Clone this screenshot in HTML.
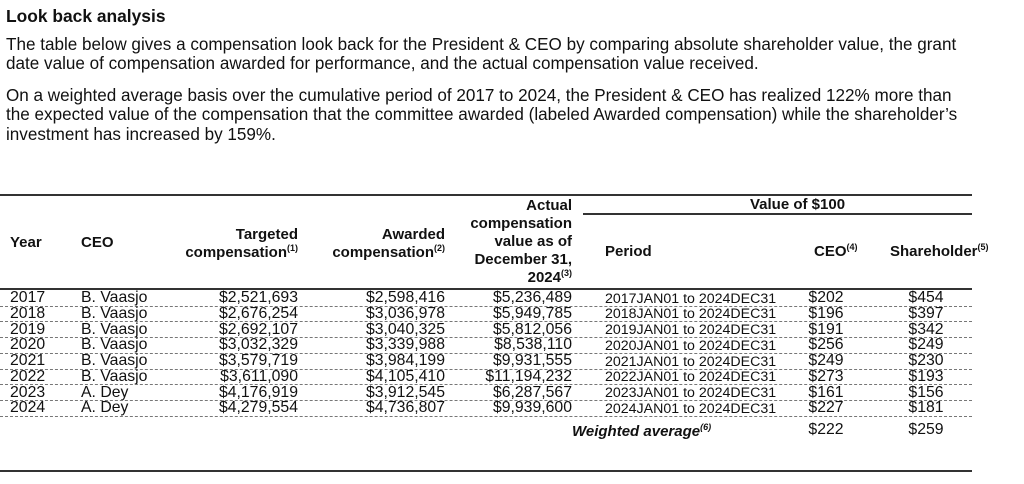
<!DOCTYPE html>
<html><head><style>
body{margin:0;width:1024px;height:484px;background:#fff;font-family:"Liberation Sans",Arial,sans-serif;color:#111;position:relative;overflow:hidden}
.a{position:absolute;white-space:nowrap}
.p{font-size:17.1px;line-height:19.4px;left:6px;width:1010px}
.h{font-weight:bold;font-size:15px;line-height:18px}
.r{text-align:right}
.c{text-align:center}
sup{font-size:9px;vertical-align:6px;line-height:0}
.row{font-size:15.8px;line-height:16px}
.per{font-size:14.2px;line-height:16px}
.dash{position:absolute;left:0;width:972px;border-top:1px dashed #777;height:0}
</style></head><body>
<div class="a" style="left:6px;top:6px;font-weight:bold;font-size:17.4px">Look back analysis</div>
<div class="a p" style="top:35px">The table below gives a compensation look back for the President &amp; CEO by comparing absolute shareholder value, the grant<br>date value of compensation awarded for performance, and the actual compensation value received.</div>
<div class="a p" style="top:86px">On a weighted average basis over the cumulative period of 2017 to 2024, the President &amp; CEO has realized 122% more than<br>the expected value of the compensation that the committee awarded (labeled Awarded compensation) while the shareholder’s<br>investment has increased by 159%.</div>

<div class="a" style="left:0;top:194px;width:972px;border-top:2px solid #333"></div>
<div class="a" style="left:583px;top:213px;width:389px;border-top:2px solid #333"></div>
<div class="a" style="left:0;top:288px;width:972px;border-top:2px solid #333"></div>
<div class="a" style="left:0;top:470px;width:972px;border-top:2px solid #333"></div>

<div class="a h" style="left:10px;top:234px">Year</div>
<div class="a h" style="left:81px;top:234px">CEO</div>
<div class="a h r" style="right:726px;top:226px">Targeted<br>compensation<sup>(1)</sup></div>
<div class="a h r" style="right:579px;top:226px">Awarded<br>compensation<sup>(2)</sup></div>
<div class="a h r" style="right:452px;top:197px">Actual<br>compensation<br>value as of<br>December 31,<br>2024<sup>(3)</sup></div>
<div class="a h" style="left:750px;top:196px">Value of $100</div>
<div class="a h" style="left:605px;top:243px">Period</div>
<div class="a h" style="left:814px;top:243px">CEO<sup>(4)</sup></div>
<div class="a h" style="left:890px;top:243px">Shareholder<sup>(5)</sup></div>

<div id="rows"></div>
<script>
var d=[["2017","B. Vaasjo","$2,521,693","$2,598,416","$5,236,489","$202","$454"],
["2018","B. Vaasjo","$2,676,254","$3,036,978","$5,949,785","$196","$397"],
["2019","B. Vaasjo","$2,692,107","$3,040,325","$5,812,056","$191","$342"],
["2020","B. Vaasjo","$3,032,329","$3,339,988","$8,538,110","$256","$249"],
["2021","B. Vaasjo","$3,579,719","$3,984,199","$9,931,555","$249","$230"],
["2022","B. Vaasjo","$3,611,090","$4,105,410","$11,194,232","$273","$193"],
["2023","A. Dey","$4,176,919","$3,912,545","$6,287,567","$161","$156"],
["2024","A. Dey","$4,279,554","$4,736,807","$9,939,600","$227","$181"]];
var h="";
for(var i=0;i<8;i++){var t=290+i*15.75;var r=d[i];
h+='<div class="a row" style="left:10px;top:'+t+'px">'+r[0]+'</div>';
h+='<div class="a row" style="left:81px;top:'+t+'px">'+r[1]+'</div>';
h+='<div class="a row r" style="right:726px;top:'+t+'px">'+r[2]+'</div>';
h+='<div class="a row r" style="right:579px;top:'+t+'px">'+r[3]+'</div>';
h+='<div class="a row r" style="right:452px;top:'+t+'px">'+r[4]+'</div>';
h+='<div class="a per" style="left:605px;top:'+(t+0.5)+'px">'+r[0]+'JAN01 to 2024DEC31</div>';
h+='<div class="a row c" style="left:786px;width:80px;top:'+t+'px">'+r[5]+'</div>';
h+='<div class="a row c" style="left:886px;width:80px;top:'+t+'px">'+r[6]+'</div>';
h+='<div class="dash" style="top:'+(t+15.5)+'px"></div>';}
h+='<div class="a" style="left:572px;top:424px;font-size:15px;line-height:16px;font-weight:bold;font-style:italic">Weighted average<sup>(6)</sup></div>';
h+='<div class="a row c" style="left:786px;width:80px;top:422px">$222</div>';
h+='<div class="a row c" style="left:886px;width:80px;top:422px">$259</div>';
document.getElementById("rows").innerHTML=h;
</script>
</body></html>
